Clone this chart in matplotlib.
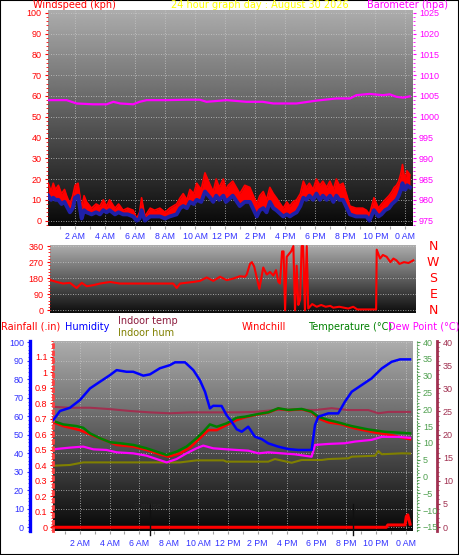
import numpy as np
import matplotlib
matplotlib.use('Agg')
import matplotlib.pyplot as plt
from matplotlib.ticker import MultipleLocator, FuncFormatter
from matplotlib.patches import Rectangle

plt.rcParams['font.family'] = ['Liberation Sans', 'DejaVu Sans']

# ---------------- data (hours since midnight) ----------------
wind_t = [0.22, 0.4, 0.55, 0.7, 0.89, 1.1, 1.3, 1.44, 1.66, 1.85, 2.0, 2.2, 2.44, 2.6, 2.77, 3.1, 3.4,
          3.66, 3.88, 4.1, 4.3, 4.66, 4.9, 5.2, 5.5, 5.87, 6.1, 6.3, 6.43, 6.65, 7.0, 7.3, 7.65, 8.0,
          8.3, 8.76, 9.0, 9.2, 9.45, 9.65, 9.9, 10.1, 10.4, 10.65, 11.0, 11.2, 11.4, 11.6, 11.87,
          12.05, 12.2, 12.5, 12.97, 13.3, 13.64, 14.1, 14.3, 14.53, 14.75, 14.97, 15.2, 15.4, 15.86,
          16.1, 16.3, 16.5, 16.75, 17.0, 17.2, 17.4, 17.6, 17.85, 18.07, 18.3, 18.5, 18.75, 18.97,
          19.2, 19.4, 19.6, 19.84, 20.1, 20.3, 20.7, 21.15, 21.4, 21.6, 21.9, 22.2, 22.4, 22.64,
          22.9, 23.1, 23.25, 23.4, 23.55, 23.7, 23.8, 23.9, 24.0, 24.1, 24.3]
wind_gust = [18, 14, 18, 15, 17, 13, 15, 12, 8, 12, 17, 18, 6, 12, 9, 6, 8, 7, 10, 7, 10, 6, 8, 5, 6,
             5, 1, 4, 11, 2, 6, 5, 6, 4, 6, 8, 11, 13, 10, 15, 13, 18, 15, 23, 17, 14, 20, 16, 20, 15,
             17, 19, 13, 17, 16, 8, 12, 14, 10, 16, 13, 11, 6, 9, 7, 9, 10, 13, 19, 16, 18, 15, 20,
             17, 19, 16, 19, 15, 20, 17, 18, 12, 7, 6, 6, 5, 3, 11, 6, 8, 10, 12, 14, 16, 17, 19, 23,
             27, 22, 21, 24, 22]
wind_avg = [12, 10, 11, 10, 10, 8, 9, 7, 4, 6, 11, 12, 1, 5, 4, 3, 4, 3, 5, 4, 5, 3, 4, 3, 3, 2, 0,
            1, 5, 0, 2, 2, 2, 1, 2, 3, 6, 7, 6, 9, 8, 10, 9, 14, 11, 9, 12, 10, 12, 9, 10, 12, 7, 9,
            9, 2, 5, 6, 4, 9, 6, 5, 2, 3, 2, 3, 4, 7, 11, 10, 12, 10, 13, 10, 12, 10, 12, 9, 12, 10,
            10, 6, 3, 2, 2, 2, 0, 5, 2, 3, 5, 6, 8, 9, 10, 12, 15, 18, 15, 15, 17, 16]

baro_t = [0.22, 1.44, 2.1, 3.2, 4.1, 4.55, 5.0, 5.87, 6.3, 6.77, 8.1, 9.43, 10.3, 10.76, 12.1, 13.4,
          14.5, 15.2, 16.75, 18.1, 19.4, 20.3, 20.74, 21.6, 22.5, 22.95, 23.4, 23.84, 24.28]
baro = [1004.0, 1004.0, 1003.2, 1003.0, 1003.0, 1003.6, 1003.2, 1003.0, 1003.6, 1004.0, 1004.0,
        1004.1, 1004.1, 1003.6, 1004.0, 1003.6, 1003.6, 1003.2, 1003.2, 1003.9, 1004.4, 1004.4,
        1005.2, 1005.5, 1005.2, 1005.4, 1004.8, 1004.6, 1004.9]

dir_t = [0.22, 0.62, 1.06, 1.5, 1.95, 2.29, 2.62, 3.06, 3.5, 4.17, 4.83, 5.71, 7.04, 8.37, 8.6, 8.82,
         9.3, 9.7, 10.15, 10.59, 11.03, 11.48, 11.92, 12.36, 12.8, 13.14, 13.25, 13.47, 13.6, 13.75,
         14.09, 14.35, 14.58, 14.8, 15.02, 15.2, 15.35, 15.46, 15.6, 15.7, 15.8, 15.91, 16.2, 16.35,
         16.46, 16.57, 16.68, 16.8, 16.9, 17.0, 17.12, 17.24, 17.34, 17.6, 17.9, 18.2, 18.5, 18.8,
         19.0, 19.4, 19.7, 20.0, 20.33, 20.6, 21.0, 21.5, 21.85, 21.89, 22.11, 22.3, 22.55, 22.8,
         23.0, 23.2, 23.4, 23.7, 24.0, 24.32]
wind_dir = [169, 159, 150, 154, 125, 154, 135, 141, 150, 159, 150, 150, 150, 150, 125, 150, 155, 159,
            165, 184, 165, 188, 169, 178, 191, 188, 200, 260, 270, 245, 120, 240, 200, 215, 195, 225,
            160, 150, 330, 330, 0, 300, 330, 360, 0, 250, 30, 60, 360, 360, 0, 360, 10, 35, 20, 30,
            20, 25, 15, 20, 15, 10, 20, 5, 5, 5, 5, 340, 290, 310, 300, 270, 290, 280, 260, 270, 265,
            280]

hum_t = [0.2, 0.65, 1.32, 2.0, 2.68, 3.35, 4.03, 4.48, 5.15, 5.6, 6.28, 6.73, 7.4, 8.08, 8.42, 9.1,
         9.66, 10.1, 10.45, 10.78, 11.0, 11.57, 11.9, 12.25, 12.59, 12.93, 13.37, 13.82, 14.28,
         14.72, 15.4, 16.07, 16.75, 17.65, 17.88, 18.1, 18.78, 19.45, 19.9, 20.36, 21.03, 21.7,
         22.39, 23.06, 23.62, 24.3]
humidity = [58, 62.9, 64.6, 68.8, 75.1, 78.7, 82.3, 85, 84.1, 84.1, 82, 82.7, 86, 87.7, 89.2, 89.2,
            85, 79.6, 73.3, 64.3, 65.7, 65.6, 60.7, 57.1, 53, 51.7, 54.4, 49, 47.7, 45.4, 43.6, 42.3,
            41.8, 41.8, 55.3, 59.8, 61.6, 61.6, 67.9, 73.3, 76.9, 80.5, 85.9, 89.5, 90.8, 90.8]

temp_t = [0.2, 0.87, 1.78, 2.22, 2.68, 3.35, 4.03, 4.7, 5.6, 6.5, 7.18, 7.86, 8.53, 9.2, 9.88, 10.33,
          10.78, 11.24, 11.9, 12.59, 13.15, 14.05, 14.72, 15.4, 16.07, 16.98, 17.65, 18.1, 18.78,
          19.45, 20.36, 21.48, 22.6, 23.74, 24.3]
temperature = [16.5, 15.5, 15.0, 14.5, 12.85, 11.4, 10.2, 9.9, 9.4, 8.4, 7.4, 6.4, 7.4, 8.9, 11.4,
               13.3, 15.5, 14.8, 15.8, 17.5, 17.8, 18.6, 19.1, 20.3, 19.8, 20.1, 19.3, 17.8, 16.8,
               16.1, 15.0, 14.0, 13.3, 13.0, 12.85]

chill_t = [0.2, 0.87, 2.0, 2.9, 3.8, 4.48, 5.6, 6.5, 7.4, 7.97, 8.76, 9.43, 10.1, 10.67, 11.24, 11.9,
           12.59, 13.15, 14.05, 14.72, 15.4, 16.07, 16.98, 17.65, 18.1, 18.78, 19.68, 20.58, 21.93,
           23.06, 24.3]
windchill = [16.1, 15.0, 13.8, 12.1, 10.6, 9.4, 8.9, 7.9, 6.6, 5.9, 6.9, 8.6, 11.4, 13.8, 13.8, 15.3,
             16.8, 17.6, 18.5, 19.0, 20.2, 19.7, 20.0, 19.2, 17.3, 16.1, 15.5, 14.3, 13.1, 12.3, 11.1]

dew_t = [0.2, 1.32, 2.22, 2.9, 3.8, 4.48, 5.6, 6.5, 7.18, 7.86, 8.53, 9.2, 9.88, 10.33, 11.0, 11.9,
         12.59, 13.37, 14.05, 14.72, 15.63, 16.53, 17.65, 17.88, 18.78, 19.9, 20.58, 21.7, 22.39,
         23.51, 24.3]
dewpoint = [8.1, 8.6, 8.9, 8.1, 7.9, 7.2, 6.9, 6.2, 5.2, 4.2, 5.2, 6.9, 8.4, 9.2, 8.4, 8.1, 7.9, 7.7,
            6.9, 7.2, 6.9, 6.6, 5.9, 9.4, 9.7, 9.9, 10.4, 10.9, 11.8, 11.8, 11.5]

itemp_t = [0.18, 1.32, 2.68, 4.03, 5.38, 6.73, 8.08, 9.43, 10.78, 12.59, 13.82, 15.17, 16.53, 17.88,
           19.0, 20.13, 21.48, 22.16, 22.84, 24.3]
indoor_temp = [26.0, 25.8, 25.8, 25.5, 25.1, 24.8, 24.6, 24.8, 24.8, 24.8, 24.9, 25.3, 25.4, 25.3,
               25.7, 25.3, 25.3, 24.6, 24.9, 24.9]

ihum_t = [0.18, 1.32, 2.22, 5.0, 8.76, 9.88, 11.69, 11.9, 12.82, 14.72, 15.17, 16.3, 16.98, 18.33,
          18.78, 20.13, 20.36, 21.93, 22.16, 22.39, 23.74, 24.3]
indoor_hum = [33.3, 33.7, 35.1, 35.1, 35.1, 36.2, 36.2, 35.5, 35.5, 35.5, 36.9, 34.9, 36.4, 36.4,
              36.9, 37.3, 38.2, 38.7, 41.2, 39.5, 40.0, 39.9]

rain_t = [0.18, 22.7, 22.8, 23.96, 24.05, 24.15, 24.3]
rain = [0.0, 0.0, 0.015, 0.015, 0.07, 0.08, 0.02]

hour_ticks = [2, 4, 6, 8, 10, 12, 14, 16, 18, 20, 22, 24]
hour_labels = ['2 AM', '4 AM', '6 AM', '8 AM', '10 AM', '12 PM', '2 PM', '4 PM', '6 PM', '8 PM',
               '10 PM', '0 AM']
compass = ['N', 'W', 'S', 'E', 'N']
compass_deg = [360, 270, 180, 90, 0]

# ---------------- layout helpers ----------------
W, H = 459, 555
fig = plt.figure(figsize=(W / 100, H / 100), dpi=100)
fig.patch.set_facecolor('white')


def box(l, t, r, b):
    return [l / W, 1 - b / H, (r - l) / W, (b - t) / H]


def shade(ax, top=0.68, bottom=0.03):
    g = np.linspace(top, bottom, 256).reshape(-1, 1)
    ax.imshow(g, extent=(0, 1, 0, 1), transform=ax.transAxes, aspect='auto', cmap='gray',
              vmin=0, vmax=1, zorder=0, interpolation='bilinear')


def no_spines(ax):
    for s in ax.spines.values():
        s.set_visible(False)


def time_axis(ax, labels=True):
    ax.set_xlim(0.18, 24.48)
    ax.xaxis.set_major_locator(MultipleLocator(2))
    ax.xaxis.set_minor_locator(MultipleLocator(1))
    ax.tick_params(axis='x', which='both', colors='#a0a0a0', length=2.5, width=0.8)
    if labels:
        ax.set_xticks(hour_ticks)
        ax.set_xticklabels(hour_labels, color='#3030ff', fontsize=6.3,
                           fontfamily=['Liberation Sans Narrow', 'Liberation Sans'])
        ax.tick_params(axis='x', pad=2)
    else:
        ax.set_xticklabels([])


grid_kw = dict(color='#c8c8c8', lw=0.6, ls=(0, (1, 2)))
txt_kw = dict(fontsize=7, fontfamily='DejaVu Sans', va='center')

# ---------------- top panel: wind speed + barometer ----------------
ax1 = fig.add_axes(box(47.7, 10, 412.7, 226))
shade(ax1)
ax1.fill_between(wind_t, wind_avg, wind_gust, color='#ff0000', lw=0, zorder=2)
ax1.plot(wind_t, wind_gust, color='#ff0000', lw=1.2, zorder=2)
ax1.plot(wind_t, wind_avg, color='#2020a8', lw=2.8, zorder=3)
ax1.set_ylim(-2.6, 101.4)
time_axis(ax1)
ax1.yaxis.set_major_locator(MultipleLocator(10))
ax1.yaxis.set_minor_locator(MultipleLocator(2))
ax1.tick_params(axis='y', which='both', colors='red', labelsize=6.5, length=2.5, pad=2)
ax1.tick_params(axis='y', which='minor', length=1.5)
ax1.set_axisbelow(True)
ax1.grid(True, which='major', **grid_kw)
no_spines(ax1)

ax1b = ax1.twinx()
ax1b.plot(baro_t, baro, color='#ff00ff', lw=1.6)
ax1b.set_ylim(973.7, 1025.7)
ax1b.yaxis.set_major_locator(MultipleLocator(5))
ax1b.yaxis.set_minor_locator(MultipleLocator(1))
ax1b.tick_params(axis='y', which='both', colors='#ff00ff', labelsize=6.5, length=2.5, pad=2)
ax1b.tick_params(axis='y', which='minor', length=1.5)
no_spines(ax1b)

fig.text(33 / W, 1 - 5.5 / H, 'Windspeed (kph)', color='red', ha='left', **txt_kw)
fig.text(170.7 / W, 1 - 5.5 / H, '24 hour graph day : August 30 2026', color='#ffff00', ha='left', **txt_kw)
fig.text(366.7 / W, 1 - 5.5 / H, 'Barometer (hpa)', color='#ff00ff', ha='left', **txt_kw)

# ---------------- middle panel: wind direction ----------------
ax2 = fig.add_axes(box(50, 245, 415.7, 313))
shade(ax2, 0.68, 0.05)
ax2.plot(dir_t, wind_dir, color='#ff0000', lw=1.5)
ax2.set_xlim(0.18, 24.48)
ax2.set_ylim(-15, 366)
ax2.set_xticks([])
ax2.yaxis.set_major_locator(MultipleLocator(90))
ax2.yaxis.set_minor_locator(MultipleLocator(18))
ax2.tick_params(axis='y', which='both', colors='red', labelsize=6.5, length=2.5, pad=2)
ax2.tick_params(axis='y', which='minor', length=1.5)
ax2.set_axisbelow(True)
ax2.grid(True, axis='y', which='major', **grid_kw)
no_spines(ax2)
for lab, d in zip(compass, compass_deg):
    ax2.text(1.048, d, lab, color='red', fontsize=9, fontfamily='DejaVu Sans',
             ha='center', va='center', transform=ax2.get_yaxis_transform())

# ---------------- bottom panel: humidity, temperatures, rain ----------------
ax3 = fig.add_axes(box(53, 340.7, 412.7, 531))
shade(ax3)
ax3.plot(ihum_t, indoor_hum, color='#808000', lw=1.5)
ax3.set_ylim(-2.0, 100.9)
time_axis(ax3)
ax3.tick_params(axis='x', pad=3)
ax3.yaxis.set_major_locator(MultipleLocator(10))
ax3.yaxis.set_minor_locator(MultipleLocator(2))
ax3.tick_params(axis='y', which='both', colors='#3030ff', labelsize=6.5, length=2.5, pad=2)
ax3.tick_params(axis='y', which='minor', length=1.5)
ax3.set_axisbelow(True)
ax3.grid(True, which='major', **grid_kw)
no_spines(ax3)
ax3.spines['left'].set_visible(True)
ax3.spines['left'].set_position(('outward', 16.5))
ax3.spines['left'].set_color('#0000ff')
ax3.spines['left'].set_linewidth(2.4)

# indoor temperature axis (outer right)
axi = ax3.twinx()
axi.plot(itemp_t, indoor_temp, color='#a03050', lw=1.5)
axi.set_ylim(-0.86, 40.3)
axi.yaxis.set_major_locator(MultipleLocator(5))
axi.yaxis.set_minor_locator(MultipleLocator(1))
axi.tick_params(axis='y', which='both', colors='#a03050', labelsize=6.5, length=2.5, pad=2)
axi.tick_params(axis='y', which='minor', length=1.5)
no_spines(axi)
axi.spines['right'].set_visible(True)
axi.spines['right'].set_position(('outward', 17.3))
axi.spines['right'].set_color('#a03050')
axi.spines['right'].set_linewidth(2.0)

# outdoor temperature axis (inner right)
axt = ax3.twinx()
axt.plot(chill_t, windchill, color='#ff0000', lw=1.8)
axt.plot(temp_t, temperature, color='#008000', lw=1.8)
axt.plot(dew_t, dewpoint, color='#ff00ff', lw=1.6)
axt.set_ylim(-16.2, 40.4)
axt.yaxis.set_major_locator(MultipleLocator(5))
axt.yaxis.set_minor_locator(MultipleLocator(1))
axt.tick_params(axis='y', which='both', colors='#50a050', labelsize=6.5, length=2.5, pad=2)
axt.tick_params(axis='y', which='minor', length=1.5)
no_spines(axt)
axt.spines['right'].set_visible(True)
axt.spines['right'].set_position(('outward', 2.9))
axt.spines['right'].set_color('#60a060')
axt.spines['right'].set_linestyle(':')

# rainfall axis (inner left)
axr = ax3.twinx()
axr.plot(rain_t, rain, color='#ff0000', lw=2.2, clip_on=False)
axr.set_ylim(-0.024, 1.204)
axr.yaxis.tick_left()
axr.set_yticks(np.arange(0, 1.15, 0.1))
axr.yaxis.set_minor_locator(MultipleLocator(0.02))
axr.yaxis.set_major_formatter(FuncFormatter(lambda v, p: '%g' % round(v, 1)))
axr.tick_params(axis='y', which='both', colors='red', labelsize=6.5, length=2.0, pad=2)
axr.tick_params(axis='y', which='minor', length=1.2)
no_spines(axr)
axr.spines['left'].set_visible(True)
axr.spines['left'].set_color('#ff4040')
axr.spines['left'].set_linewidth(2.0)
axr.spines['left'].set_linestyle(':')

# humidity line on top of everything
axh = ax3.twinx()
axh.plot(hum_t, humidity, color='#0000ff', lw=1.8)
axh.set_ylim(ax3.get_ylim())
axh.set_yticks([])
no_spines(axh)

# sunrise / sunset markers
for tm in [6.73, 20.45]:
    axh.axvline(tm, ymin=-0.02, ymax=0.14, color='#101010', lw=1, clip_on=False)
axh.text(6.6, 11, 'Sunrise', color='#262626', fontsize=6, ha='center', va='center')

fig.text(1 / W, 1 - 326.7 / H, 'Rainfall (.in)', color='red', ha='left', **txt_kw)
fig.text(65 / W, 1 - 326.7 / H, 'Humidity', color='#0000ff', ha='left', **txt_kw)
fig.text(118 / W, 1 - 320.7 / H, 'Indoor temp', color='#8b1a3c', ha='left', **txt_kw)
fig.text(118 / W, 1 - 332.7 / H, 'Indoor hum', color='#808000', ha='left', **txt_kw)
fig.text(241.7 / W, 1 - 326.7 / H, 'Windchill', color='red', ha='left', **txt_kw)
fig.text(308 / W, 1 - 326.7 / H, 'Temperature (°C)', color='#008000', ha='left', **txt_kw)
fig.text(388 / W, 1 - 326.7 / H, 'Dew Point (°C)', color='#ff00ff', ha='left', **txt_kw)

fig.add_artist(Rectangle((0, 0), 1, 1, transform=fig.transFigure, fill=False, ec='black', lw=1.5))

fig.savefig('out.png', dpi=100)
